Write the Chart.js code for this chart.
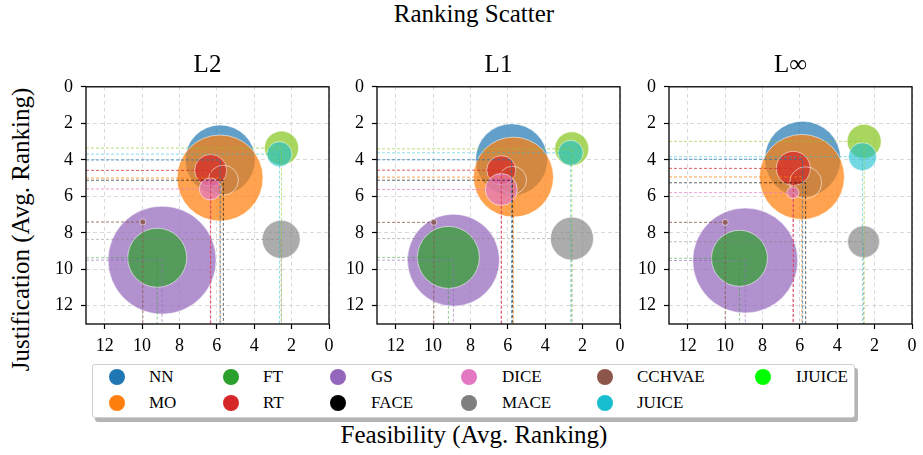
<!DOCTYPE html>
<html><head><meta charset="utf-8">
<script src="https://cdn.jsdelivr.net/npm/chart.js@4/dist/chart.umd.min.js"></script>
<style>
html,body{margin:0;padding:0;background:#fff;}
body{width:923px;height:455px;position:relative;overflow:hidden;font-family:"Liberation Serif","Times New Roman",serif;color:#000;}
.t{position:absolute;white-space:nowrap;font-family:"Liberation Serif",serif;}
.cw{position:absolute;}
#legend{position:absolute;left:92px;top:364px;width:761px;height:52px;border:1px solid #cfcfcf;border-radius:3px;box-shadow:3px 4px 0 #b5b5b5;background:#fff;}
.mk{position:absolute;width:16px;height:16px;border-radius:50%;}
.lt{position:absolute;font-family:"Liberation Serif",serif;font-size:17px;line-height:17px;white-space:nowrap;}
</style></head><body>
<div class="t" style="left:0;width:948px;text-align:center;top:1px;font-size:25px;line-height:25px">Ranking Scatter</div>
<div class="t" style="left:-130px;top:217px;width:300px;height:25px;text-align:center;font-size:25px;line-height:25px;transform:rotate(-90deg);transform-origin:150px 12.5px;">Justification (Avg. Ranking)</div>
<div class="t" style="left:0;width:948px;text-align:center;top:422px;font-size:25px;line-height:25px">Feasibility (Avg. Ranking)</div>
<div id="legend"></div>
<script>
// ---- data ----
const methods = ['NN','MO','FT','RT','GS','FACE','DICE','MACE','CCHVAE','JUICE','IJUICE'];
const subplotTitles = ['L2','L1','L\u221E'];
const tickValues = [0,2,4,6,8,10,12];

// Feasibility (x, avg ranking), Justification (y, avg ranking), bubble size (px radius)
const feasL2 = [5.82, 5.83, 9.19, 6.33, 8.93, 5.65, 6.35, 2.56, 9.96, 2.65, 2.54];
const justL2 = [4.01, 5.00, 9.37, 4.58, 9.50, 5.12, 5.60, 8.36, 7.41, 3.69, 3.36];
const sizeL2 = [35, 43, 29.5, 16, 54, 15, 11, 19, 3, 12.5, 17];

const feasL1 = [5.80, 5.70, 9.18, 6.35, 8.91, 5.75, 6.35, 2.57, 9.96, 2.64, 2.58];
const justL1 = [4.00, 4.95, 9.35, 4.57, 9.50, 5.12, 5.63, 8.32, 7.43, 3.62, 3.40];
const sizeL1 = [36, 40, 31, 14.5, 46, 14, 16, 21.5, 3, 12.5, 17];

const feasLinf = [5.85, 5.89, 9.23, 6.35, 8.92, 5.69, 6.37, 2.59, 9.99, 2.65, 2.56];
const justLinf = [3.97, 4.94, 9.40, 4.47, 9.52, 5.26, 5.80, 8.49, 7.43, 3.83, 2.99];
const sizeLinf = [38, 42.5, 28, 17, 52.5, 16, 6, 16, 3, 14, 17];

// ---- styles ----
const legendColors = ['#1f77b4','#ff7f0e','#2ca02c','#d62728','#9467bd','#000000','#e377c2','#7f7f7f','#8c564b','#17becf','#00ff00'];
const bubbleFill = ['rgba(31,119,180,0.7)','rgba(255,127,14,0.72)','rgba(44,160,44,0.7)','rgba(214,39,40,0.7)','rgba(148,103,189,0.72)','rgba(0,0,0,0.03)','rgba(227,119,194,0.7)','rgba(127,127,127,0.65)','rgba(140,86,75,0.8)','rgba(23,190,207,0.6)','rgba(140,200,40,0.75)'];
const lineCol = ['rgba(31,119,180,0.75)','rgba(255,127,14,0.7)','rgba(44,160,44,0.5)','rgba(214,39,40,0.75)','rgba(148,103,189,0.6)','rgba(0,0,0,0.6)','rgba(227,119,194,0.7)','rgba(127,127,127,0.5)','rgba(140,86,75,0.8)','rgba(23,190,207,0.5)','rgba(140,200,40,0.6)'];
// stacking (bottom -> top)
const drawOrder = ['NN','MO','GS','FT','RT','FACE','DICE','MACE','CCHVAE','IJUICE','JUICE'];

const plotLefts = [86, 377, 669];
const plotW = 243, plotH = 242, plotTop = 82;
const padL = 50, padT = 14, padR = 10, axisH = 36;

Chart.defaults.font.family = "'Liberation Serif', serif";
Chart.defaults.font.size = 18;
Chart.defaults.color = '#000';

const panels = [
  {feas: feasL2, just: justL2, size: sizeL2},
  {feas: feasL1, just: justL1, size: sizeL1},
  {feas: feasLinf, just: justLinf, size: sizeLinf}
];

const boxPlugin = {
  id: 'box',
  afterDraw(chart){
    const {ctx, chartArea:a} = chart;
    ctx.save();
    ctx.strokeStyle = '#000'; ctx.lineWidth = 1.3; ctx.setLineDash([]);
    ctx.strokeRect(a.left, a.top, a.right - a.left, a.bottom - a.top);
    ctx.restore();
  }
};

function scaleOpts(axis){
  return {
    type: 'linear', min: 0, max: 13, reverse: true,
    z: 1,
    afterBuildTicks: s => { s.ticks = tickValues.map(v => ({value: v})); },
    afterFit: s => { if (axis === 'x') s.height = axisH; else s.width = padL; },
    grid: { color: 'rgba(205,205,205,0.75)', lineWidth: 1, drawTicks: true, tickLength: 5, tickColor: '#000', tickWidth: 1.2, tickBorderDash: [100, 0] },
    border: { display: false, dash: [4, 3] },
    ticks: { color: '#000', font: {family: "'Liberation Serif', serif", size: 18}, padding: axis === 'x' ? 6 : 8, maxRotation: 0, autoSkip: false }
  };
}

panels.forEach((p, k) => {
  const wrap = document.createElement('div');
  wrap.className = 'cw';
  const W = padL + plotW + padR, H = padT + plotH + axisH;
  wrap.style.left = (plotLefts[k] - padL) + 'px';
  wrap.style.top = (plotTop - padT) + 'px';
  wrap.style.width = W + 'px'; wrap.style.height = H + 'px';
  const cv = document.createElement('canvas');
  cv.width = W; cv.height = H; cv.style.width = W + 'px'; cv.style.height = H + 'px';
  wrap.appendChild(cv);
  document.body.appendChild(wrap);

  const t = document.createElement('div');
  t.className = 't';
  t.textContent = subplotTitles[k];
  t.style.cssText = 'left:' + (plotLefts[k]) + 'px;width:' + plotW + 'px;text-align:center;top:51px;font-size:25px;line-height:25px;';
  document.body.appendChild(t);

  const datasets = [];
  methods.forEach((m, i) => {
    datasets.push({
      type: 'line', label: m + ' guide',
      data: [{x: 13, y: p.just[i]}, {x: p.feas[i], y: p.just[i]}, {x: p.feas[i], y: 13}],
      borderColor: lineCol[i], borderWidth: 1, borderDash: [3, 2],
      pointRadius: 0, fill: false, tension: 0, order: 0
    });
    datasets.push({
      type: 'bubble', label: m,
      data: [{x: p.feas[i], y: p.just[i], r: p.size[i]}],
      backgroundColor: bubbleFill[i],
      borderColor: 'rgba(255,255,255,0.55)', borderWidth: 1,
      order: 100 - drawOrder.indexOf(m)
    });
  });

  new Chart(cv, {
    type: 'bubble',
    data: { datasets },
    options: {
      responsive: false, animation: false, devicePixelRatio: 1,
      layout: { autoPadding: false, padding: {left: 0, top: padT, right: padR, bottom: 0} },
      plugins: { legend: {display: false}, tooltip: {enabled: false}, title: {display: false} },
      scales: { x: scaleOpts('x'), y: scaleOpts('y') },
      events: []
    },
    plugins: [boxPlugin]
  });
});

// ---- legend ----
const legMarkX = [117, 231, 338, 469, 605, 763];
const legTextX = [149, 263, 371, 502, 637, 796];
const legRowY = [377, 403];
const leg = document.getElementById('legend');
methods.forEach((m, i) => {
  const col = Math.floor(i / 2), row = i % 2;
  const mk = document.createElement('div');
  mk.className = 'mk';
  mk.style.background = legendColors[i];
  mk.style.left = (legMarkX[col] - 8 - 93) + 'px';
  mk.style.top = (legRowY[row] - 8 - 365) + 'px';
  leg.appendChild(mk);
  const tx = document.createElement('div');
  tx.className = 'lt';
  tx.textContent = m;
  tx.style.left = (legTextX[col] - 93) + 'px';
  tx.style.top = (legRowY[row] - 9 - 365) + 'px';
  leg.appendChild(tx);
});
</script>
</body></html>
